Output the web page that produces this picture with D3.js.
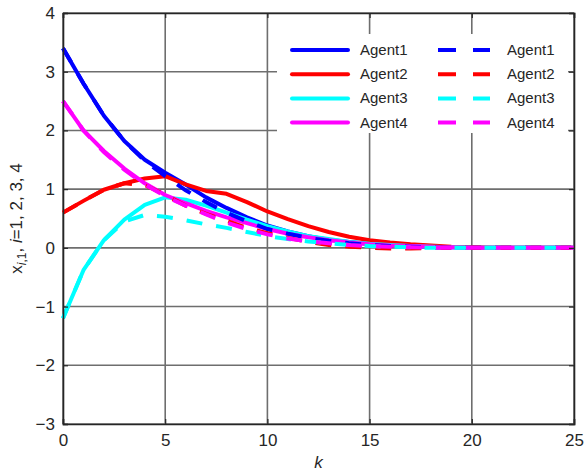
<!DOCTYPE html>
<html>
<head>
<meta charset="utf-8">
<script src="https://cdn.jsdelivr.net/npm/d3@7"></script>
<style>
  body { margin: 0; background: #fff; }
  svg { font-family: "Liberation Sans", Arial, sans-serif; }
</style>
</head>
<body>
<div id="chart"></div>
<script>
const steps = d3.range(0, 26);
const names = ['Agent1', 'Agent2', 'Agent3', 'Agent4'];
const colors = ['#0000ff', '#ff0000', '#00ffff', '#ff00ff'];

// solid: x_{i,1}
const agent1 = [3.4, 2.8, 2.25, 1.82, 1.5, 1.28, 1.08, 0.86, 0.68, 0.52, 0.38, 0.28, 0.2, 0.14, 0.1, 0.07, 0.05, 0.03, 0.02, 0.01, 0, 0, 0, 0, 0, 0];
const agent2 = [0.6, 0.8, 0.99, 1.1, 1.18, 1.22, 1.08, 0.97, 0.92, 0.78, 0.62, 0.49, 0.37, 0.27, 0.19, 0.13, 0.09, 0.06, 0.04, 0.02, 0.01, 0, 0, 0, 0, 0];
const agent3 = [-1.2, -0.38, 0.13, 0.48, 0.73, 0.86, 0.82, 0.72, 0.6, 0.48, 0.37, 0.28, 0.2, 0.15, 0.1, 0.07, 0.05, 0.03, 0.02, 0.01, 0, 0, 0, 0, 0, 0];
const agent4 = [2.5, 2.0, 1.65, 1.35, 1.1, 0.9, 0.76, 0.63, 0.52, 0.42, 0.32, 0.24, 0.18, 0.13, 0.09, 0.06, 0.04, 0.03, 0.02, 0.01, 0, 0, 0, 0, 0, 0];

// dashed
const agent1d = [3.4, 2.8, 2.25, 1.82, 1.48, 1.22, 0.98, 0.78, 0.6, 0.45, 0.32, 0.24, 0.17, 0.12, 0.08, 0.05, 0.03, 0.02, 0.01, 0, 0, 0, 0, 0, 0, 0];
const agent2d = [0.6, 0.8, 0.99, 1.1, 1.07, 0.9, 0.72, 0.58, 0.46, 0.34, 0.25, 0.17, 0.1, 0.05, 0.02, 0, -0.01, -0.01, 0, 0, 0, 0, 0, 0, 0, 0];
const agent3d = [-1.2, -0.38, 0.13, 0.45, 0.56, 0.53, 0.47, 0.4, 0.34, 0.27, 0.2, 0.15, 0.11, 0.08, 0.05, 0.03, 0.02, 0.01, 0, 0, 0, 0, 0, 0, 0, 0];
const agent4d = [2.5, 2.0, 1.63, 1.33, 1.08, 0.88, 0.72, 0.57, 0.43, 0.32, 0.23, 0.16, 0.11, 0.08, 0.05, 0.03, 0.02, 0.01, 0, 0, 0, 0, 0, 0, 0, 0];

const xTicks = [0, 5, 10, 15, 20, 25];
const yTicks = [-3, -2, -1, 0, 1, 2, 3, 4];

const solid = [agent1, agent2, agent3, agent4];
const dashed = [agent1d, agent2d, agent3d, agent4d];

const W = 585, H = 472;
const margin = { top: 13, right: 11, bottom: 48, left: 63 };
const w = W - margin.left - margin.right;
const h = H - margin.top - margin.bottom;

const svg = d3.select('#chart').append('svg')
    .attr('width', W)
    .attr('height', H);

const g = svg.append('g')
    .attr('transform', `translate(${margin.left},${margin.top})`);

const x = d3.scaleLinear().domain([0, 25]).range([0, w]);
const y = d3.scaleLinear().domain([-3, 4]).range([h, 0]);

// grid
g.append('g').selectAll('line.gx')
    .data(xTicks).join('line')
    .attr('x1', d => x(d)).attr('x2', d => x(d))
    .attr('y1', 0).attr('y2', h)
    .attr('stroke', '#6e6e6e').attr('stroke-width', 1.6);
g.append('g').selectAll('line.gy')
    .data(yTicks).join('line')
    .attr('x1', 0).attr('x2', w)
    .attr('y1', d => y(d)).attr('y2', d => y(d))
    .attr('stroke', '#6e6e6e').attr('stroke-width', 1.6);

const line = d3.line()
    .x((d, i) => x(steps[i]))
    .y(d => y(d));

const plot = g.append('g');
solid.forEach((s, i) => {
    plot.append('path')
        .attr('d', line(s))
        .attr('fill', 'none')
        .attr('stroke', colors[i])
        .attr('stroke-width', 4)
        .attr('stroke-linejoin', 'round');
});
dashed.forEach((s, i) => {
    plot.append('path')
        .attr('d', line(s))
        .attr('fill', 'none')
        .attr('stroke', colors[i])
        .attr('stroke-width', 4)
        .attr('stroke-dasharray', '16,14');
});

// legend
const leg = g.append('g');
leg.append('rect')
    .attr('x', 277 - margin.left).attr('y', 34 - margin.top)
    .attr('width', 291).attr('height', 99)
    .attr('fill', '#fff');
names.forEach((n, i) => {
    const ly = 50 - margin.top + i * 24.2;
    leg.append('line')
        .attr('x1', 292 - margin.left).attr('x2', 348 - margin.left)
        .attr('y1', ly).attr('y2', ly)
        .attr('stroke', colors[i]).attr('stroke-width', 4)
        .attr('stroke-linecap', 'round');
    leg.append('text')
        .attr('x', 360 - margin.left).attr('y', ly + 5)
        .attr('font-size', 15).attr('fill', '#262626')
        .text(n);
    leg.append('line')
        .attr('x1', 438 - margin.left).attr('x2', 490 - margin.left)
        .attr('y1', ly).attr('y2', ly)
        .attr('stroke', colors[i]).attr('stroke-width', 4)
        .attr('stroke-dasharray', '18,17');
    leg.append('text')
        .attr('x', 507 - margin.left).attr('y', ly + 5)
        .attr('font-size', 15).attr('fill', '#262626')
        .text(n);
});

// axes box with inward ticks
const xAxis = d3.axisBottom(x).tickValues(xTicks).tickSize(-5).tickPadding(10);
const yAxis = d3.axisLeft(y).tickValues(yTicks).tickSize(-5).tickPadding(8)
    .tickFormat(d => d < 0 ? '\u2212' + Math.abs(d) : d);

const gx = g.append('g').attr('transform', `translate(0,${h})`).call(xAxis);
const gy = g.append('g').call(yAxis);
g.append('g').call(d3.axisTop(x).tickValues(xTicks).tickSize(-5).tickFormat(''));
g.append('g').attr('transform', `translate(${w},0)`)
    .call(d3.axisRight(y).tickValues(yTicks).tickSize(-5).tickFormat(''));

g.selectAll('.domain').attr('stroke', '#262626').attr('stroke-width', 1.6);
g.selectAll('.tick line').attr('stroke', '#262626').attr('stroke-width', 1.2);
[gx, gy].forEach(a => a.selectAll('text')
    .attr('font-size', 17).attr('fill', '#262626')
    .attr('font-family', '"Liberation Sans", Arial, sans-serif'));

// axis titles
svg.append('text')
    .attr('x', margin.left + w / 2).attr('y', 468)
    .attr('text-anchor', 'middle')
    .attr('font-size', 17).attr('font-style', 'italic').attr('fill', '#262626')
    .text('k');

const yl = svg.append('text')
    .attr('transform', `translate(22,${margin.top + h / 2}) rotate(-90)`)
    .attr('text-anchor', 'middle')
    .attr('font-size', 17).attr('fill', '#262626');
yl.append('tspan').text('x');
yl.append('tspan').attr('font-size', 12).attr('dy', 4).attr('font-style', 'italic').text('i');
yl.append('tspan').attr('font-size', 12).text(',1');
yl.append('tspan').attr('dy', -4).text(', ');
yl.append('tspan').attr('font-style', 'italic').text('i');
yl.append('tspan').text('=1, 2, 3, 4');
</script>
</body>
</html>
